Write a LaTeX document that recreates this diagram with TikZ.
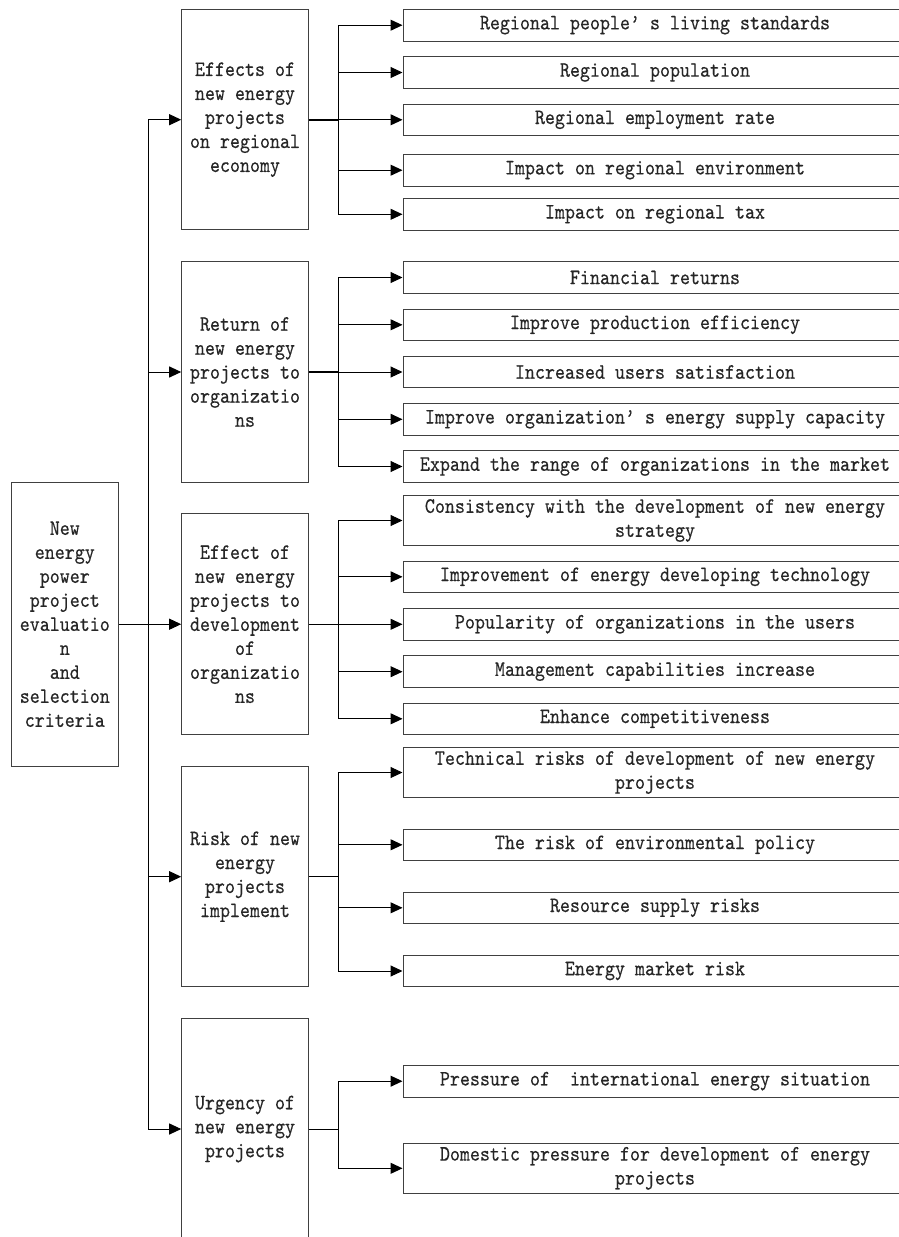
\documentclass[tikz,border=0pt]{standalone}
\usepackage{fontspec}
\setmonofont{lmmono10-regular.otf}[FakeStretch=0.866,FakeBold=0.4]
\usetikzlibrary{arrows.meta}
\begin{document}
\begin{tikzpicture}[x=1pt,y=-1pt,
  every node/.style={font=\ttfamily\fontsize{22}{24}\selectfont, text=black!85},
  box/.style={draw=black!75, line width=1pt, inner sep=0pt, align=center},
  rootbox/.style={box, minimum width=107pt, minimum height=283.7pt},
  catbox/.style={box, minimum width=126.6pt, minimum height=220.5pt},
  leafbox/.style={box, minimum width=504pt, minimum height=31.6pt},
  tallleaf/.style={leafbox, minimum height=49.6pt},
  link/.style={line width=1pt, draw=black},
  stub/.style={link},
  arr/.style={link, -{Triangle[length=12pt,width=11pt]}},
]
\useasboundingbox (0,0) rectangle (899,1237);
\clip (0,0) rectangle (899,1237);
\fill[white] (0,0) rectangle (899,1237);

% root
\node[rootbox] (root) at (64.8,624.2) {New\\energy\\power\\project\\evaluatio\\n\\and\\selection\\criteria};

% categories
\node[catbox] (c1) at (245,119.7) {Effects of\\new energy\\projects\\on regional\\economy};
\node[catbox] (c2) at (245,372) {Return of\\new energy\\projects to\\organizatio\\ns};
\node[catbox] (c3) at (245,624.2) {Effect of\\new energy\\projects to\\development\\of\\organizatio\\ns};
\node[catbox] (c4) at (245,876.7) {Risk of new\\energy\\projects\\implement};
\node[catbox] (c5) at (245,1129) {Urgency of\\new energy\\projects};

% leaves group 1
\node[leafbox] (a1) at (655,25.2) {Regional people’ s living standards};
\node[leafbox] (a2) at (655,72.5) {Regional population};
\node[leafbox] (a3) at (655,119.8) {Regional employment rate};
\node[leafbox] (a4) at (655,170.2) {Impact on regional environment};
\node[leafbox] (a5) at (655,214.3) {Impact on regional tax};
% leaves group 2
\node[leafbox] (b1) at (655,277.5) {Financial returns};
\node[leafbox] (b2) at (655,324.8) {Improve production efficiency};
\node[leafbox] (b3) at (655,372) {Increased users satisfaction};
\node[leafbox] (b4) at (655,419.3) {Improve organization’ s energy supply capacity};
\node[leafbox] (b5) at (655,466.5) {Expand the range of organizations in the market};
% leaves group 3
\node[tallleaf] (d1) at (655,520.5) {Consistency with the development of new energy\\strategy};
\node[leafbox] (d2) at (655,576.8) {Improvement of energy developing technology};
\node[leafbox] (d3) at (655,624.3) {Popularity of organizations in the users};
\node[leafbox] (d4) at (655,671.7) {Management capabilities increase};
\node[leafbox] (d5) at (655,718.8) {Enhance competitiveness};
% leaves group 4
\node[tallleaf] (e1) at (655,772.5) {Technical risks of development of new energy\\projects};
\node[leafbox] (e2) at (655,844.8) {The risk of environmental policy};
\node[leafbox] (e3) at (655,907.8) {Resource supply risks};
\node[leafbox] (e4) at (655,971) {Energy market risk};
% leaves group 5
\node[leafbox] (f1) at (655,1081.2) {Pressure of\ \ international energy situation};
\node[tallleaf] (f2) at (655,1168.3) {Domestic pressure for development of energy\\projects};

% trunk
\coordinate (tk) at (148.3,624.2);
\draw[arr] (root.east) -- (c3.west);
\draw[arr] (tk) |- (c1.west);
\draw[arr] (tk) |- (c2.west);
\draw[arr] (tk) |- (c4.west);
\draw[arr] (tk) |- (c5.west);

% branches
\draw[stub, line width=2pt] (c1.east) -- ++(30,0) coordinate (k1);
\draw[stub, line width=2pt] (c2.east) -- ++(30,0) coordinate (k2);
\draw[stub] (c3.east) -- ++(30,0) coordinate (k3);
\draw[stub] (c4.east) -- ++(30,0) coordinate (k4);
\draw[stub] (c5.east) -- ++(30,0) coordinate (k5);

\foreach \n in {a1,a2,a3,a4,a5} \draw[arr] (k1) |- (\n.west);
\foreach \n in {b1,b2,b3,b4,b5} \draw[arr] (k2) |- (\n.west);
\foreach \n in {d1,d2,d3,d4,d5} \draw[arr] (k3) |- (\n.west);
\foreach \n in {e1,e2,e3,e4} \draw[arr] (k4) |- (\n.west);
\foreach \n in {f1,f2} \draw[arr] (k5) |- (\n.west);
\end{tikzpicture}
\end{document}
